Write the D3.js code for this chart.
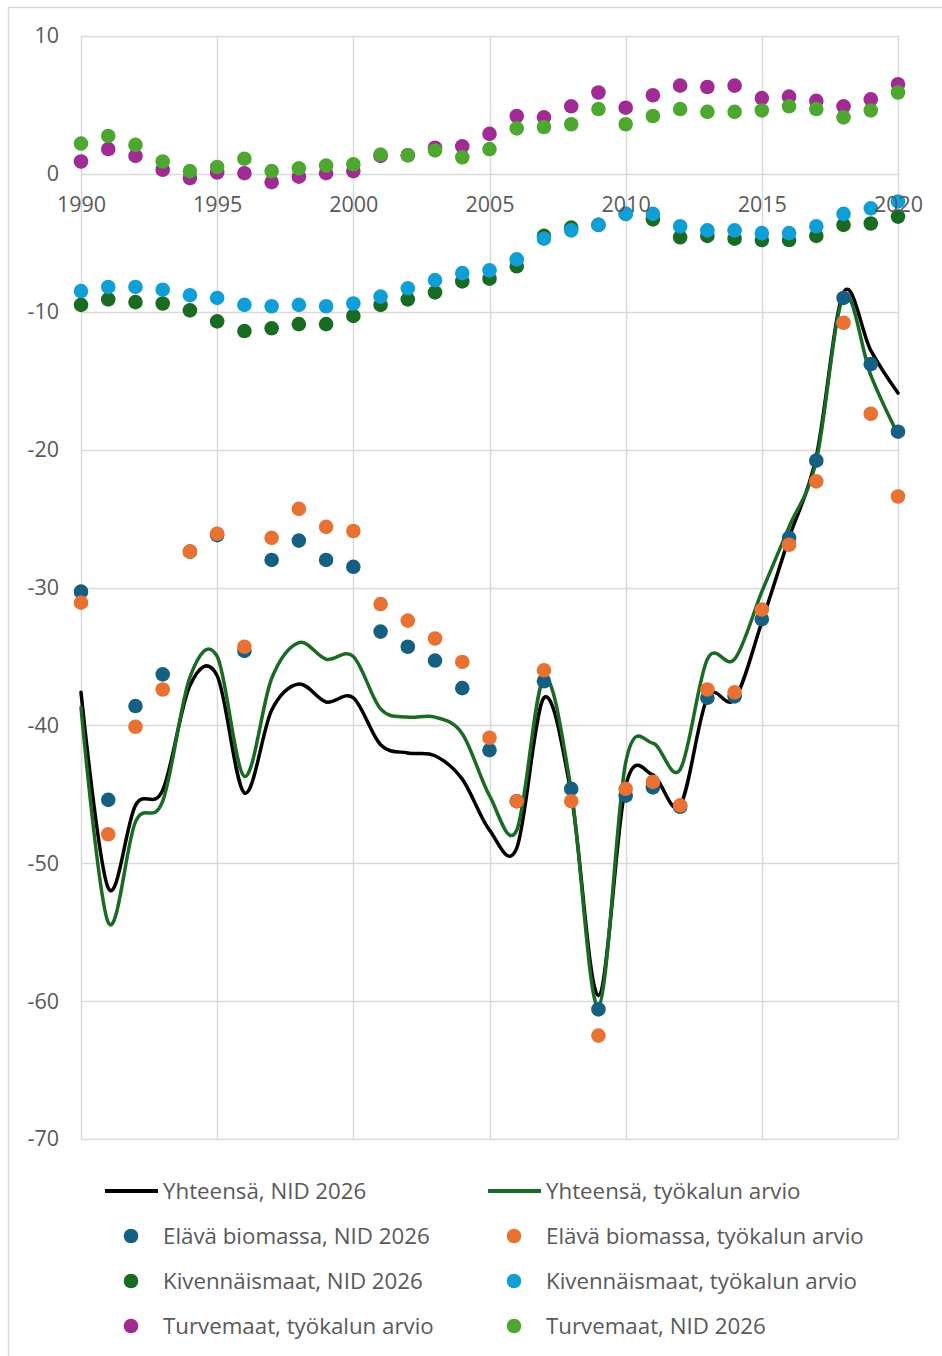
<!DOCTYPE html>
<html>
<head>
<meta charset="utf-8">
<script src="https://cdn.jsdelivr.net/npm/d3@7"></script>
<style>
  html, body { margin: 0; padding: 0; background: #fff; }
  svg text { font-family: 'Open Sans', 'DejaVu Sans', sans-serif; fill: #595959; }
</style>
</head>
<body>
<div id="chart"></div>
<script>

const years = [1990, 1991, 1992, 1993, 1994, 1995, 1996, 1997, 1998, 1999,
  2000, 2001, 2002, 2003, 2004, 2005, 2006, 2007, 2008, 2009,
  2010, 2011, 2012, 2013, 2014, 2015, 2016, 2017, 2018, 2019, 2020]

const xTicks = [1990, 1995, 2000, 2005, 2010, 2015, 2020]
const yTicks = [10, 0, -10, -20, -30, -40, -50, -60, -70]

// Yhteensä
const totalNid = [-37.6, -51.8, -45.8, -44.7, -37.1, -36.4, -44.9, -38.9, -37.0, -38.3,
  -38.0, -41.4, -42.0, -42.2, -43.9, -47.6, -48.9, -38.0, -45.0, -59.6,
  -44.4, -43.6, -45.8, -38.0, -38.1, -32.5, -26.4, -20.5, -8.6, -12.8, -15.9]
const totalTool = [-38.7, -54.3, -47.0, -45.5, -36.5, -35.0, -43.7, -36.6, -34.0, -35.2,
  -35.0, -38.8, -39.4, -39.4, -40.6, -45.1, -47.6, -36.6, -44.7, -60.4,
  -42.7, -41.3, -43.2, -35.2, -35.2, -30.3, -25.6, -20.8, -8.9, -14.6, -18.9]

// Elävä biomassa
const bioNid = [-30.3, -45.4, -38.6, -36.3, -27.4, -26.2, -34.6, -28.0, -26.6, -28.0,
  -28.5, -33.2, -34.3, -35.3, -37.3, -41.8, -45.5, -36.8, -44.6, -60.6,
  -45.1, -44.5, -45.9, -38.0, -37.9, -32.3, -26.4, -20.8, -9.0, -13.8, -18.7]
const bioTool = [-31.1, -47.9, -40.1, -37.4, -27.4, -26.1, -34.3, -26.4, -24.3, -25.6,
  -25.9, -31.2, -32.4, -33.7, -35.4, -40.9, -45.5, -36.0, -45.5, -62.5,
  -44.6, -44.1, -45.8, -37.4, -37.6, -31.6, -26.9, -22.3, -10.8, -17.4, -23.4]

// Kivennäismaat
const minNid = [-9.5, -9.1, -9.3, -9.4, -9.9, -10.7, -11.4, -11.2, -10.9, -10.9,
  -10.3, -9.5, -9.1, -8.6, -7.8, -7.6, -6.7, -4.5, -3.9, -3.7,
  -2.9, -3.3, -4.6, -4.5, -4.7, -4.8, -4.8, -4.5, -3.7, -3.6, -3.1]
const minTool = [-8.5, -8.2, -8.2, -8.4, -8.8, -9.0, -9.5, -9.6, -9.5, -9.6,
  -9.4, -8.9, -8.3, -7.7, -7.2, -7.0, -6.2, -4.7, -4.1, -3.7,
  -2.9, -2.9, -3.8, -4.1, -4.1, -4.3, -4.3, -3.8, -2.9, -2.5, -2.0]

// Turvemaat
const peatTool = [0.9, 1.8, 1.3, 0.3, -0.3, 0.1, 0.05, -0.6, -0.2, 0.05,
  0.2, 1.3, 1.35, 1.9, 2.0, 2.9, 4.2, 4.1, 4.9, 5.9,
  4.8, 5.7, 6.4, 6.3, 6.4, 5.5, 5.6, 5.3, 4.9, 5.4, 6.5]
const peatNid = [2.2, 2.75, 2.1, 0.9, 0.2, 0.5, 1.1, 0.2, 0.4, 0.6,
  0.7, 1.4, 1.35, 1.7, 1.2, 1.8, 3.3, 3.4, 3.6, 4.7,
  3.6, 4.2, 4.7, 4.5, 4.5, 4.6, 4.9, 4.7, 4.1, 4.6, 5.9]

const lineSeries = [
  { label: 'Yhteensä, NID 2026', values: totalNid, color: '#000000' },
  { label: 'Yhteensä, työkalun arvio', values: totalTool, color: '#196B24' }
]

const dotSeries = [
  { label: 'Elävä biomassa, NID 2026', values: bioNid, color: '#156082' },
  { label: 'Elävä biomassa, työkalun arvio', values: bioTool, color: '#E97132' },
  { label: 'Kivennäismaat, NID 2026', values: minNid, color: '#196B24' },
  { label: 'Kivennäismaat, työkalun arvio', values: minTool, color: '#0F9ED5' },
  { label: 'Turvemaat, työkalun arvio', values: peatTool, color: '#A02B93' },
  { label: 'Turvemaat, NID 2026', values: peatNid, color: '#4EA72E' }
]


const width = 942
const height = 1356
const plot = { left: 81, right: 898, top: 36, bottom: 1139 }
const gridColor = '#d9d9d9'

const x = d3.scaleLinear()
  .domain([1990, 2020])
  .range([plot.left, plot.right])

const y = d3.scaleLinear()
  .domain([-70, 10])
  .range([plot.bottom, plot.top])

const svg = d3.select('#chart')
  .append('svg')
  .attr('width', width)
  .attr('height', height)

svg.append('rect')
  .attr('width', width)
  .attr('height', height)
  .attr('fill', '#fff')

// outer frame (only top and left visible)
svg.append('path')
  .attr('d', `M8.5,${height} V7.5 H${width}`)
  .attr('fill', 'none')
  .attr('stroke', gridColor)
  .attr('stroke-width', 1.5)

// grid
const grid = svg.append('g')
  .attr('class', 'grid')

grid.selectAll('.hgrid')
  .data(yTicks)
  .enter()
  .append('line')
    .attr('x1', plot.left)
    .attr('x2', plot.right)
    .attr('y1', d => Math.round(y(d)) + 0.5)
    .attr('y2', d => Math.round(y(d)) + 0.5)
    .attr('stroke', gridColor)
    .attr('stroke-width', 1.5)

grid.selectAll('.vgrid')
  .data(xTicks)
  .enter()
  .append('line')
    .attr('y1', plot.top)
    .attr('y2', plot.bottom)
    .attr('x1', d => Math.round(x(d)) + 0.5)
    .attr('x2', d => Math.round(x(d)) + 0.5)
    .attr('stroke', gridColor)
    .attr('stroke-width', 1.5)

// y axis labels (plain hyphen, like the original)
const yAxis = svg.append('g')
  .attr('transform', `translate(${plot.left - 22}, 0)`)
  .call(d3.axisLeft(y)
    .tickValues(yTicks)
    .tickFormat(d => String(d))
    .tickSize(0)
    .tickPadding(0))

yAxis.select('.domain').remove()
yAxis.selectAll('text')
  .attr('font-size', '21.5px')
  .attr('fill', '#595959')
  .style('font-family', null)

// smoothed total lines
const line = d3.line()
  .x((d, i) => x(years[i]))
  .y(d => y(d))
  .curve(d3.curveCardinal.tension(0))

svg.append('g')
  .selectAll('path')
  .data(lineSeries)
  .enter()
  .append('path')
    .attr('d', d => line(d.values))
    .attr('fill', 'none')
    .attr('stroke', d => d.color)
    .attr('stroke-width', 3.5)
    .attr('stroke-linejoin', 'round')
    .attr('stroke-linecap', 'round')

// markers
const dots = svg.append('g')
  .selectAll('g')
  .data(dotSeries)
  .enter()
  .append('g')
    .attr('fill', d => d.color)

dots.selectAll('circle')
  .data(d => d.values)
  .enter()
  .append('circle')
    .attr('cx', (d, i) => x(years[i]))
    .attr('cy', d => y(d))
    .attr('r', 7.3)

// x axis labels sit along the zero line
const xAxis = svg.append('g')
  .attr('transform', `translate(0, ${y(0) + 23})`)
  .call(d3.axisBottom(x).tickValues(xTicks).tickFormat(d3.format('d')).tickSize(0).tickPadding(0))

xAxis.select('.domain').remove()
xAxis.selectAll('text')
  .attr('font-size', '21.5px')
  .attr('fill', '#595959')
  .style('font-family', null)

// legend
const legendItems = lineSeries.map(d => ({ ...d, type: 'line' }))
  .concat(dotSeries.map(d => ({ ...d, type: 'dot' })))

const legend = svg.append('g')
  .selectAll('g')
  .data(legendItems)
  .enter()
  .append('g')
    .attr('transform', (d, i) =>
      `translate(${i % 2 === 0 ? 105 : 488}, ${1191 + Math.floor(i / 2) * 45})`)

legend.filter(d => d.type === 'line')
  .append('line')
    .attr('x1', 0)
    .attr('x2', 53)
    .attr('stroke', d => d.color)
    .attr('stroke-width', 4)

legend.filter(d => d.type === 'dot')
  .append('circle')
    .attr('cx', 26)
    .attr('r', 7.3)
    .attr('fill', d => d.color)

legend.append('text')
  .attr('x', 58)
  .attr('dy', '.35em')
  .attr('font-size', '22.3px')
  .text(d => d.label)

</script>
</body>
</html>
